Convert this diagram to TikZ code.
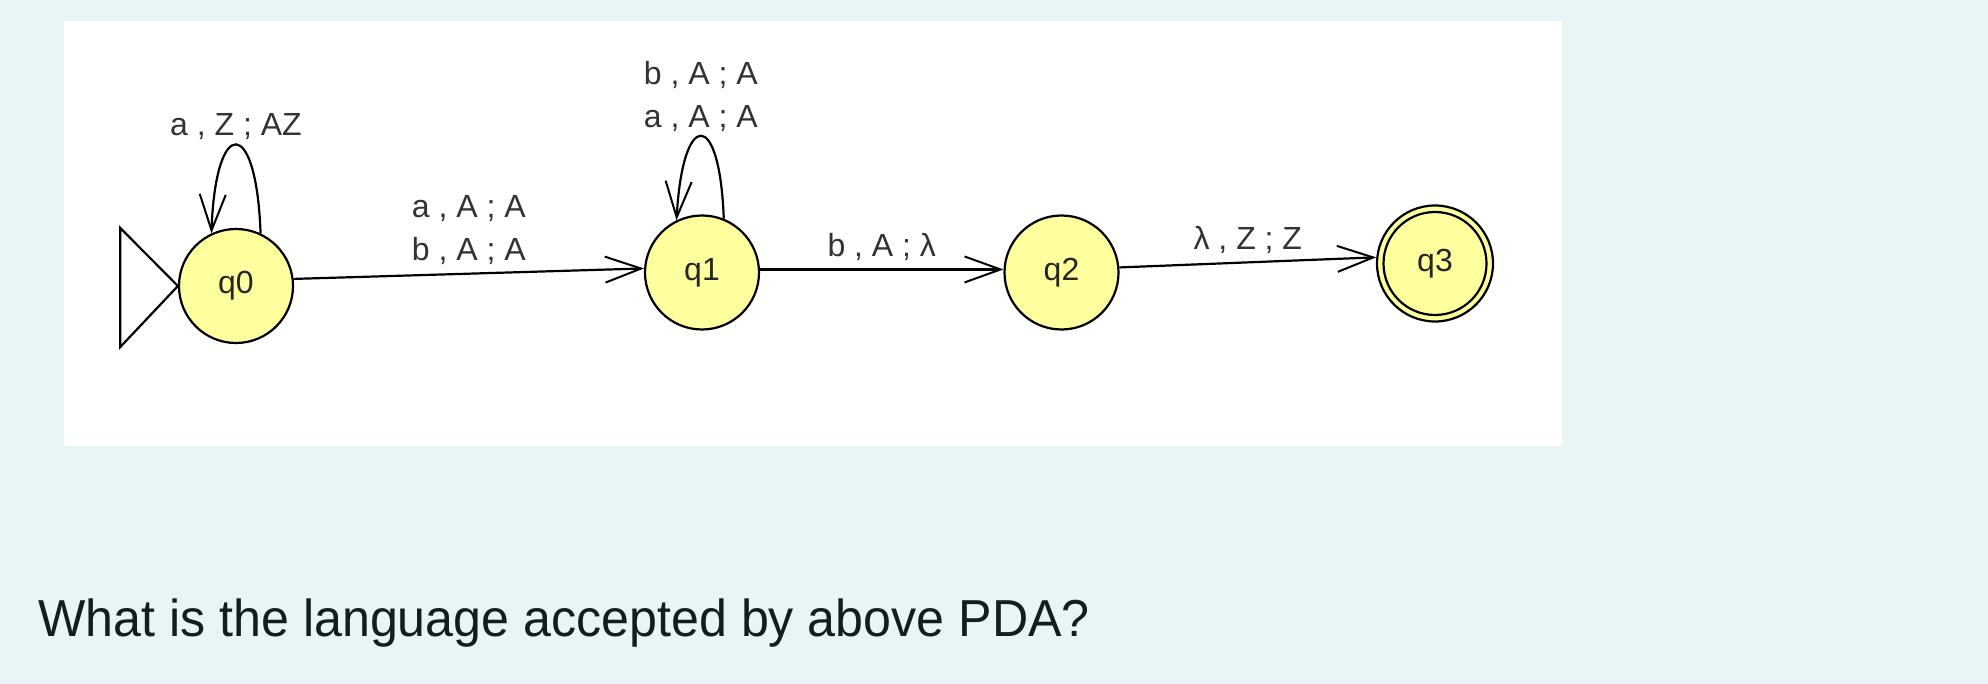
\documentclass[tikz,border=0pt]{standalone}
\usepackage{fontspec}
\setmainfont{Liberation Sans}
\usetikzlibrary{arrows.meta}
\definecolor{bgc}{RGB}{233,244,246}
\definecolor{stfill}{RGB}{255,255,158}
\definecolor{qtext}{RGB}{16,30,34}
\begin{document}
\begin{tikzpicture}[x=1pt,y=-1pt,
  state/.style={circle,draw=black,fill=stfill,line width=2.2pt,minimum size=114pt,inner sep=0pt,text=black!85,font=\fontsize{32}{38}\selectfont},
  edge/.style={line width=2.2pt,-{Straight Barb[length=36pt,width=26pt,line width=2pt]}},
  lbl/.style={font=\fontsize{32}{43}\selectfont,align=center,inner sep=4pt,text=black!80},
  elbl/.style={lbl,inner sep=8pt}
]
\useasboundingbox (0,0) rectangle (1988,684);
\fill[bgc] (0,0) rectangle (1988,684);
\fill[white] (64,21) rectangle (1562,446);
\node[state] (q0) at (236,286) {q0};
\node[state] (q1) at (702,272.5) {q1};
\node[state] (q2) at (1061.5,272.5) {q2};
\node[state,minimum size=116pt] (q3) at (1435,263.5) {q3};
\draw[line width=2.2pt] (q3) circle[radius=51.5pt];
% initial marker
\draw[line width=2.2pt,line join=miter] (q0.west) -- ++(-57.6,-58) -- ++(0,119) -- cycle;
% loops
\draw[edge] (q0.65) .. controls +(-4,-118) and +(4,-118) .. (q0.115)
  node[pos=0.5,above,lbl] {a , Z ; AZ};
\draw[edge] (q1.68) .. controls +(-4,-111) and +(6,-111) .. (q1.116)
  node[pos=0.5,above,lbl] {b , A ; A\\a , A ; A};
% transitions
\draw[edge] (q0.7) -- (q1.176) node[midway,above,elbl] {a , A ; A\\b , A ; A};
\draw[edge] (q1.3) -- (q2.177) node[midway,above,elbl] {b , A ; λ};
\draw[edge] (q2.5) -- (q3.174) node[midway,above,elbl] {λ , Z ; Z};
% question
\node[anchor=base west,font=\fontsize{52}{60}\selectfont,text=qtext,inner sep=0pt] (qq) at (38,636) {\scalebox{0.965}[1]{What is the language accepted by above PDA?}};
\end{tikzpicture}
\end{document}
